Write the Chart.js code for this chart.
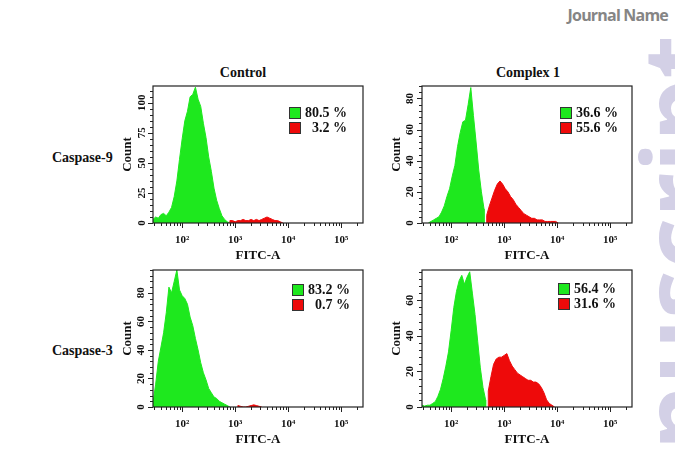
<!DOCTYPE html>
<html>
<head>
<meta charset="utf-8">
<title>Caspase FITC-A histograms</title>
<script src="https://cdn.jsdelivr.net/npm/chart.js@4.4.1/dist/chart.umd.min.js"></script>
<style>
  html, body { margin: 0; padding: 0; }
  body { width: 675px; height: 450px; position: relative; overflow: hidden; background: #fff;
         font-family: "Liberation Serif", "DejaVu Serif", serif; color: #111; }
  .txt { position: absolute; font-weight: bold; white-space: nowrap; line-height: 1; }
  .panel { position: absolute; z-index: 2; }
  .legend { position: absolute; z-index: 3; font-weight: bold; font-size: 14px; }
  .legend .row { display: flex; align-items: center; height: 15px; }
  .legend .sw { width: 10px; height: 10px; border: 1px solid #333; }
  .legend .val { width: 46px; text-align: right; line-height: 1; }
  #journal { position: absolute; right: 7px; top: 4px; font-family: "Open Sans", sans-serif;
             font-weight: 700; font-size: 16px; letter-spacing: -0.8px; color: #858585; }
  #mark { position: absolute; left: 626px; top: 605px; transform-origin: 0 0; transform: rotate(-90deg);
          font-family: "Open Sans", sans-serif; font-weight: 700; font-size: 100px; line-height: 1;
          color: #d3d0e6; white-space: nowrap; z-index: 1; }
</style>
</head>
<body>
<div id="journal">Journal Name</div>
<div id="mark">Manuscript</div>
<script>
// x axis is FITC-A in log10 decades
const xMin = 1.45;
const xMax = 5.41;
const binStep = 0.05;
const decadeTicks = [2, 3, 4, 5];
const decadeLabels = ['10²', '10³', '10⁴', '10⁵'];

const colTitles = ['Control', 'Complex 1'];
const rowTitles = ['Caspase-9', 'Caspase-3'];

// panels: Caspase-9 control, Caspase-9 complex 1, Caspase-3 control, Caspase-3 complex 1
const greenPct = ['80.5', '36.6', '83.2', '56.4'];
const redPct = ['3.2', '55.6', '0.7', '31.6'];

const countMax = [114, 88, 96, 77];
const countTicks = [[0, 25, 50, 75, 100], [0, 20, 40, 60, 80], [0, 20, 40, 60, 80], [0, 20, 40, 60]];
const countMinorStep = [5, 4, 4, 4];

// histogram counts, one value per bin, first bin at the given log10 value
const c9ControlGreenStart = 1.45;
const c9ControlGreen = [3, 5, 4, 7, 8, 6, 9, 13, 22, 35, 53, 70, 85, 93, 105, 107, 113, 103, 97, 83,
  71, 55, 43, 29, 19, 12, 6, 3, 1, 0];
const c9ControlRedStart = 2.90;
const c9ControlRed = [2, 2, 1, 2, 2, 3, 2, 2, 3, 2, 3, 2, 3, 4, 5, 4, 3, 2, 2, 1, 0];

const c9ComplexGreenStart = 1.57;
const c9ComplexGreen = [0, 1, 2, 3, 4, 7, 11, 17, 22, 30, 37, 49, 58, 65, 66, 76, 87, 69, 52, 34,
  20, 9];
const c9ComplexRedStart = 2.67;
const c9ComplexRed = [5, 11, 16, 21, 25, 27, 25, 22, 20, 17, 15, 12, 10, 8, 6, 5, 4, 3, 3, 2,
  2, 2, 1, 1, 1, 1, 1, 0];

const c3ControlGreenStart = 1.45;
const c3ControlGreen = [3, 16, 32, 42, 52, 66, 84, 80, 88, 96, 82, 78, 76, 72, 63, 57, 48, 40, 31, 24,
  19, 13, 10, 7, 6, 4, 3, 2, 1, 0];
const c3ControlRedStart = 3.05;
const c3ControlRed = [1, 0.5, 0, 0, 0.5, 1, 1.5, 1, 0.5, 0];

const c3ComplexGreenStart = 1.45;
const c3ComplexGreen = [1, 0.5, 1, 1, 2, 3, 6, 10, 16, 23, 31, 43, 56, 65, 71, 74, 69, 73, 76, 64,
  52, 37, 22, 11, 4];
const c3ComplexRedStart = 2.70;
const c3ComplexRed = [9, 17, 24, 27, 28, 28, 29, 30, 26, 23, 21, 19, 18, 17, 16, 15, 15, 14, 14, 13,
  11, 8, 4, 2, 1, 0];

const greenFill = '#1ee81e';
const redFill = '#ee0a0a';
const serif = '"Liberation Serif", "DejaVu Serif", serif';

// log decade ticks (majors + minors) inside the axis range
const xTickValues = [];
for (let n = 1; n <= 5; n++) {
  for (let k = 1; k <= 9; k++) {
    const v = n + Math.log10(k);
    if (v >= xMin && v <= xMax) xTickValues.push(v);
  }
}

// bins as points, closed to zero at both ends so the gate edges are vertical
function toPoints(start, counts) {
  const pts = counts.map((c, i) => ({ x: +(start + i * binStep).toFixed(3), y: c }));
  pts.unshift({ x: pts[0].x, y: 0 });
  pts.push({ x: pts[pts.length - 1].x, y: 0 });
  return pts;
}

// box around the plot plus outward tick marks
const frameTicks = {
  id: 'frameTicks',
  afterDraw(chart) {
    const { ctx, chartArea: a, scales: { x, y } } = chart;
    ctx.save();
    ctx.strokeStyle = '#222';
    ctx.lineWidth = 1;
    ctx.beginPath();
    x.ticks.forEach(t => {
      const px = Math.round(x.getPixelForValue(t.value)) + 0.5;
      const len = t.label ? 5 : 3;
      ctx.moveTo(px, a.bottom);
      ctx.lineTo(px, a.bottom + len);
    });
    y.ticks.forEach(t => {
      const py = Math.round(y.getPixelForValue(t.value)) + 0.5;
      const len = t.label !== '' ? 5 : 3;
      ctx.moveTo(a.left, py);
      ctx.lineTo(a.left - len, py);
    });
    ctx.stroke();
    ctx.lineWidth = 1.2;
    ctx.strokeRect(a.left, a.top, a.right - a.left, a.bottom - a.top);
    ctx.restore();
  }
};

const panels = [
  { left: 153, top: 86, right: 363, bottom: 223, greenStart: c9ControlGreenStart, green: c9ControlGreen,
    redStart: c9ControlRedStart, red: c9ControlRed, legend: [289, 107], yPad: 3 },
  { left: 422, top: 86, right: 632, bottom: 223, greenStart: c9ComplexGreenStart, green: c9ComplexGreen,
    redStart: c9ComplexRedStart, red: c9ComplexRed, legend: [560, 107], yPad: 6 },
  { left: 153, top: 270, right: 363, bottom: 407, greenStart: c3ControlGreenStart, green: c3ControlGreen,
    redStart: c3ControlRedStart, red: c3ControlRed, legend: [292, 284], yPad: 6 },
  { left: 422, top: 270, right: 632, bottom: 407, greenStart: c3ComplexGreenStart, green: c3ComplexGreen,
    redStart: c3ComplexRedStart, red: c3ComplexRed, legend: [558, 283], yPad: 6 }
];

function drawPanel(p, k) {
  const yAxisW = 33, xAxisH = 40, padTop = 2, padRight = 2;
  const holder = document.createElement('div');
  holder.className = 'panel';
  holder.style.left = (p.left - yAxisW) + 'px';
  holder.style.top = (p.top - padTop) + 'px';
  const canvas = document.createElement('canvas');
  canvas.width = p.right - p.left + yAxisW + padRight;
  canvas.height = p.bottom - p.top + padTop + xAxisH;
  holder.appendChild(canvas);
  document.body.appendChild(holder);

  const yTickValues = [];
  for (let v = 0; v <= countMax[k]; v += countMinorStep[k]) yTickValues.push(v);

  const histo = (start, counts, color) => ({
    data: toPoints(start, counts),
    borderColor: color,
    backgroundColor: color,
    borderWidth: 1,
    fill: 'origin',
    pointRadius: 0,
    tension: 0
  });

  new Chart(canvas, {
    type: 'line',
    data: { datasets: [histo(p.redStart, p.red, redFill), histo(p.greenStart, p.green, greenFill)] },
    options: {
      responsive: false,
      animation: false,
      events: [],
      layout: { padding: { left: 0, right: padRight, top: padTop, bottom: 0 } },
      plugins: { legend: { display: false }, tooltip: { enabled: false } },
      scales: {
        x: {
          type: 'linear', min: xMin, max: xMax,
          afterBuildTicks: s => { s.ticks = xTickValues.map(v => ({ value: v })); },
          afterFit: s => { s.height = xAxisH; s.paddingLeft = 0; s.paddingRight = 0; },
          grid: { display: false, drawTicks: false },
          border: { display: false },
          ticks: {
            autoSkip: false, maxRotation: 0, minRotation: 0, padding: 11, color: '#111',
            font: { family: serif, size: 11, weight: 'bold' },
            callback: v => {
              const i = decadeTicks.indexOf(v);
              return i < 0 ? '' : decadeLabels[i];
            }
          },
          title: { display: true, text: 'FITC-A', color: '#111', padding: 0,
                   font: { family: serif, size: 13, weight: 'bold' } }
        },
        y: {
          type: 'linear', min: 0, max: countMax[k],
          afterBuildTicks: s => { s.ticks = yTickValues.map(v => ({ value: v })); },
          afterFit: s => { s.width = yAxisW; s.paddingTop = 0; s.paddingBottom = 0; },
          grid: { display: false, drawTicks: false },
          border: { display: false },
          ticks: {
            autoSkip: false, minRotation: 90, maxRotation: 90, crossAlign: 'center',
            padding: p.yPad, color: '#111',
            font: { family: serif, size: 11, weight: 'bold' },
            callback: v => (countTicks[k].includes(v) ? String(v) : '')
          },
          title: { display: true, text: 'Count', color: '#111', padding: 0,
                   font: { family: serif, size: 13, weight: 'bold' } }
        }
      }
    },
    plugins: [frameTicks]
  });

  // percentage legend
  const lg = document.createElement('div');
  lg.className = 'legend';
  lg.style.left = p.legend[0] + 'px';
  lg.style.top = (p.legend[1] - 2) + 'px';
  [[greenFill, greenPct[k]], [redFill, redPct[k]]].forEach(([c, v]) => {
    const row = document.createElement('div');
    row.className = 'row';
    const sw = document.createElement('div');
    sw.className = 'sw';
    sw.style.background = c;
    const val = document.createElement('div');
    val.className = 'val';
    val.textContent = v + ' %';
    row.appendChild(sw);
    row.appendChild(val);
    lg.appendChild(row);
  });
  document.body.appendChild(lg);
}

panels.forEach(drawPanel);

function addText(text, x, y, size, anchor) {
  const d = document.createElement('div');
  d.className = 'txt';
  d.textContent = text;
  d.style.fontSize = size + 'px';
  d.style.left = x + 'px';
  d.style.top = y + 'px';
  d.style.transform = anchor === 'center' ? 'translate(-50%, -50%)' : 'translate(0, -50%)';
  document.body.appendChild(d);
}

addText(colTitles[0], 243, 73, 14, 'center');
addText(colTitles[1], 528, 73, 14, 'center');
addText(rowTitles[0], 52, 158, 14, 'left');
addText(rowTitles[1], 52, 351, 14, 'left');
</script>
</body>
</html>
